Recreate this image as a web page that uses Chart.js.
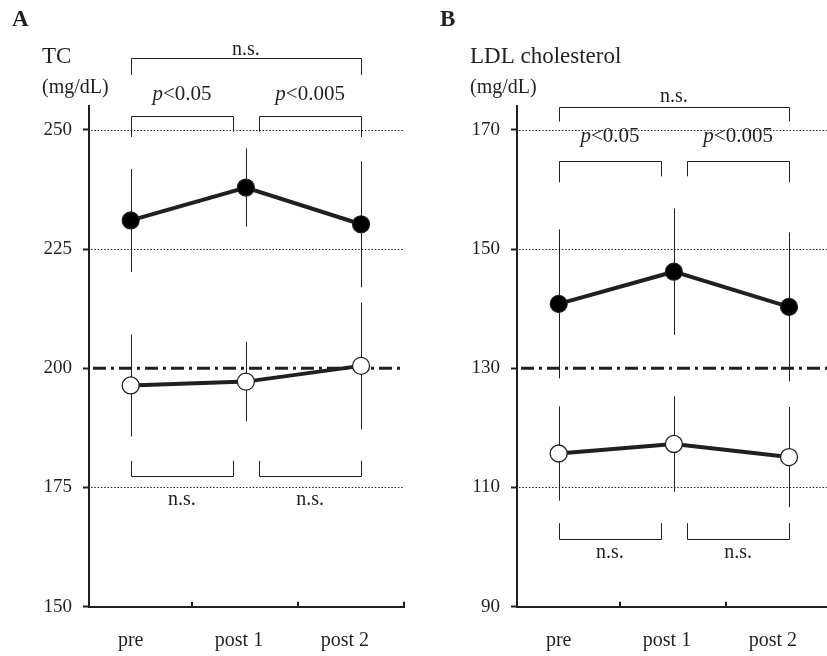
<!DOCTYPE html>
<html>
<head>
<meta charset="utf-8">
<script src="https://cdn.jsdelivr.net/npm/chart.js@4.4.1/dist/chart.umd.min.js"></script>
<style>
    html, body { margin: 0; padding: 0; background: #fff; width: 827px; height: 656px; overflow: hidden; }
    .panel { position: absolute; top: 0; width: 414px; height: 656px; }
    #wrapA { left: 0; }
    #wrapB { left: 428px; }
</style>
</head>
<body>
<div class="panel" id="wrapA"><canvas id="chartA" width="414" height="656"></canvas></div>
<div class="panel" id="wrapB"><canvas id="chartB" width="414" height="656"></canvas></div>
<script>
// data (mean and SD per time point)
const groups = ['pre', 'post 1', 'post 2'];

const tcHigh = [231.0, 237.9, 230.2];
const tcHighSD = [10.8, 8.2, 13.2];
const tcLow = [196.4, 197.2, 200.5];
const tcLowSD = [10.7, 8.3, 13.3];
const tcTicks = [150, 175, 200, 225, 250];
const tcCutoff = 200;

const ldlHigh = [140.8, 146.2, 140.3];
const ldlHighSD = [12.5, 10.6, 12.5];
const ldlLow = [115.7, 117.3, 115.1];
const ldlLowSD = [7.9, 8.0, 8.4];
const ldlTicks = [90, 110, 130, 150, 170];
const ldlCutoff = 130;

const ink = '#231f20';
const serif = "'Liberation Serif', 'Times New Roman', serif";

// x layout (the original axis is not symmetric around the points)
const xMin = -0.362, xMax = 2.373;
const xLabelPos = [0, 0.94, 1.86];
const xTickMarks = [0.532, 1.452, 2.373];

function toPoints(arr) {
    return arr.map(function (v, i) { return { x: i, y: v }; });
}

function drawLabel(ctx, text, cx, baseY, size) {
    // "p<0.05" gets an italic p
    if (text.charAt(0) === 'p') {
        var rest = text.slice(1);
        ctx.font = 'italic ' + size + 'px ' + serif;
        var w1 = ctx.measureText('p').width;
        ctx.font = size + 'px ' + serif;
        var w2 = ctx.measureText(rest).width;
        var start = cx - (w1 + w2) / 2;
        ctx.textAlign = 'left';
        ctx.font = 'italic ' + size + 'px ' + serif;
        ctx.fillText('p', start, baseY);
        ctx.font = size + 'px ' + serif;
        ctx.fillText(rest, start + w1, baseY);
    } else {
        ctx.font = size + 'px ' + serif;
        ctx.textAlign = 'center';
        ctx.fillText(text, cx, baseY);
    }
}

const decorPlugin = {
    id: 'decor',
    beforeDatasetsDraw: function (chart, args, opts) {
        const ctx = chart.ctx;
        const xs = chart.scales.x, ys = chart.scales.y, area = chart.chartArea;
        ctx.save();
        ctx.strokeStyle = ink;

        // dotted reference lines
        ctx.lineWidth = 1;
        ctx.setLineDash([1.5, 1.8]);
        opts.dotted.forEach(function (v) {
            var py = Math.round(ys.getPixelForValue(v)) + 0.5;
            ctx.beginPath();
            ctx.moveTo(area.left + 2, py);
            ctx.lineTo(area.right, py);
            ctx.stroke();
        });

        // cut-off line (dash-dot)
        ctx.lineWidth = 3;
        ctx.setLineDash([13, 5, 3, 5]);
        var cy = ys.getPixelForValue(opts.cutoff);
        ctx.beginPath();
        ctx.moveTo(area.left + 4, cy);
        ctx.lineTo(area.right, cy);
        ctx.stroke();

        // error bars
        ctx.setLineDash([]);
        ctx.lineWidth = 1;
        opts.errors.forEach(function (e) {
            e.mean.forEach(function (m, i) {
                var px = Math.round(xs.getPixelForValue(i)) + 0.5;
                ctx.beginPath();
                ctx.moveTo(px, ys.getPixelForValue(m + e.sd[i]));
                ctx.lineTo(px, ys.getPixelForValue(m - e.sd[i]));
                ctx.stroke();
            });
        });
        ctx.restore();
    },
    afterDraw: function (chart, args, opts) {
        const ctx = chart.ctx;
        const xs = chart.scales.x, ys = chart.scales.y, area = chart.chartArea;
        ctx.save();
        ctx.strokeStyle = ink;
        ctx.fillStyle = ink;

        // inner tick marks on the x axis
        ctx.lineWidth = 2;
        xTickMarks.forEach(function (v) {
            var px = Math.round(xs.getPixelForValue(v));
            ctx.beginPath();
            ctx.moveTo(px, area.bottom);
            ctx.lineTo(px, area.bottom - 5);
            ctx.stroke();
        });

        // significance brackets
        ctx.lineWidth = 1;
        opts.brackets.forEach(function (b) {
            var x0 = Math.round(xs.getPixelForValue(b.x0)) + 0.5;
            var x1 = Math.round(xs.getPixelForValue(b.x1)) + 0.5;
            var y = Math.round(ys.getPixelForValue(b.y)) + 0.5;
            ctx.beginPath();
            ctx.moveTo(x0, ys.getPixelForValue(b.e0));
            ctx.lineTo(x0, y);
            ctx.lineTo(x1, y);
            ctx.lineTo(x1, ys.getPixelForValue(b.e1));
            ctx.stroke();
            ctx.textBaseline = 'alphabetic';
            drawLabel(ctx, b.label, (xs.getPixelForValue(b.x0) + xs.getPixelForValue(b.x1)) / 2,
                ys.getPixelForValue(b.ly), b.label.charAt(0) === 'p' ? 21 : 20);
        });

        // panel letter and axis title
        ctx.textAlign = 'left';
        ctx.textBaseline = 'alphabetic';
        ctx.font = 'bold 23px ' + serif;
        ctx.fillText(opts.panel, 12, 26);
        ctx.font = '23px ' + serif;
        ctx.fillText(opts.title, 42, 63);
        ctx.font = '20px ' + serif;
        ctx.fillText('(mg/dL)', 42, 93);
        ctx.restore();
    }
};

function makeChart(canvasId, cfg) {
    const ctx = document.getElementById(canvasId).getContext('2d');
    return new Chart(ctx, {
        type: 'line',
        data: {
            datasets: [{
                data: toPoints(cfg.high),
                borderColor: ink,
                borderWidth: 4,
                pointRadius: 8.5,
                pointBackgroundColor: '#000',
                pointBorderColor: ink,
                pointBorderWidth: 1.2,
                tension: 0
            }, {
                data: toPoints(cfg.low),
                borderColor: ink,
                borderWidth: 4,
                pointRadius: 8.5,
                pointBackgroundColor: '#fff',
                pointBorderColor: ink,
                pointBorderWidth: 1.3,
                tension: 0
            }]
        },
        options: {
            responsive: false,
            animation: false,
            clip: false,
            layout: { padding: { top: 106, right: 10, left: 0, bottom: 0 } },
            plugins: {
                legend: { display: false },
                tooltip: { enabled: false },
                decor: {
                    panel: cfg.panel,
                    title: cfg.title,
                    dotted: cfg.dotted,
                    cutoff: cfg.cutoff,
                    errors: [{ mean: cfg.high, sd: cfg.highSD }, { mean: cfg.low, sd: cfg.lowSD }],
                    brackets: cfg.brackets
                }
            },
            scales: {
                x: {
                    type: 'linear',
                    min: xMin,
                    max: xMax,
                    afterFit: function (scale) { scale.height = 49.3; },
                    afterBuildTicks: function (scale) {
                        scale.ticks = xLabelPos.map(function (v) { return { value: v }; });
                    },
                    grid: { display: true, drawOnChartArea: false, drawTicks: false },
                    border: { display: true, color: ink, width: 2 },
                    ticks: {
                        autoSkip: false,
                        maxRotation: 0,
                        padding: 22,
                        color: ink,
                        font: { family: serif, size: 20 },
                        callback: function (v, i) { return groups[i]; }
                    }
                },
                y: {
                    min: cfg.min,
                    max: cfg.max,
                    afterFit: function (scale) { scale.width = 89; },
                    afterBuildTicks: function (scale) {
                        scale.ticks = cfg.ticks.map(function (v) { return { value: v }; });
                    },
                    grid: { drawOnChartArea: false, drawTicks: true, tickLength: 6, tickWidth: 2, tickColor: ink },
                    border: { display: true, color: ink, width: 2 },
                    ticks: {
                        padding: 11,
                        color: ink,
                        font: { family: serif, size: 19 }
                    }
                }
            }
        },
        plugins: [decorPlugin]
    });
}

makeChart('chartA', {
    panel: 'A',
    title: 'TC',
    high: tcHigh, highSD: tcHighSD,
    low: tcLow, lowSD: tcLowSD,
    ticks: tcTicks,
    min: 150, max: 255,
    dotted: [250, 225, 175],
    cutoff: tcCutoff,
    brackets: [
        { x0: 0, x1: 2, y: 265, e0: 261.5, e1: 261.5, label: 'n.s.', ly: 265.7 },
        { x0: 0, x1: 0.89, y: 252.9, e0: 248.5, e1: 249.6, label: 'p<0.05', ly: 256.3 },
        { x0: 1.116, x1: 2, y: 252.9, e0: 249.6, e1: 248.5, label: 'p<0.005', ly: 256.3 },
        { x0: 0, x1: 0.89, y: 177.4, e0: 180.6, e1: 180.6, label: 'n.s.', ly: 171.3 },
        { x0: 1.116, x1: 2, y: 177.4, e0: 180.6, e1: 180.6, label: 'n.s.', ly: 171.3 }
    ]
});

makeChart('chartB', {
    panel: 'B',
    title: 'LDL cholesterol',
    high: ldlHigh, highSD: ldlHighSD,
    low: ldlLow, lowSD: ldlLowSD,
    ticks: ldlTicks,
    min: 90, max: 174,
    dotted: [170, 150, 110],
    cutoff: ldlCutoff,
    brackets: [
        { x0: 0, x1: 2, y: 173.9, e0: 171.4, e1: 171.4, label: 'n.s.', ly: 174.75 },
        { x0: 0, x1: 0.89, y: 164.7, e0: 161.2, e1: 162.2, label: 'p<0.05', ly: 168.0 },
        { x0: 1.116, x1: 2, y: 164.7, e0: 162.2, e1: 161.2, label: 'p<0.005', ly: 168.0 },
        { x0: 0, x1: 0.89, y: 101.35, e0: 104.0, e1: 104.0, label: 'n.s.', ly: 98.2 },
        { x0: 1.116, x1: 2, y: 101.35, e0: 104.0, e1: 104.0, label: 'n.s.', ly: 98.2 }
    ]
});
</script>
</body>
</html>
